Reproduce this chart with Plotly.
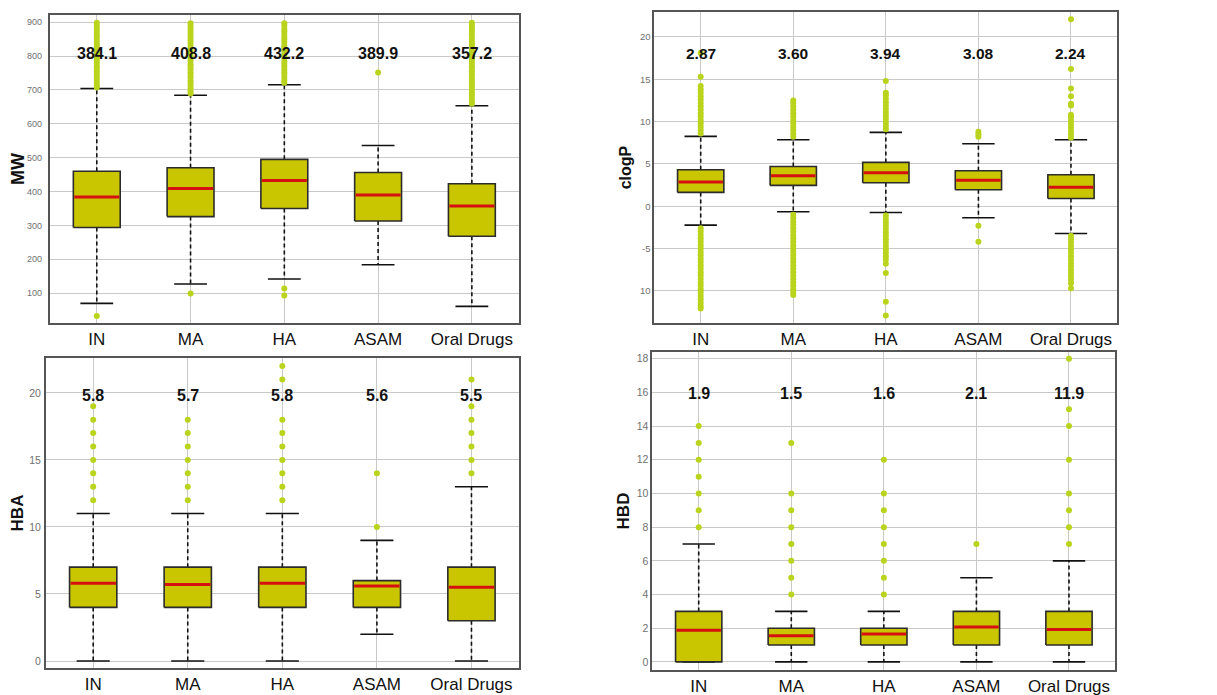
import plotly.graph_objects as go

# ---------------- data ----------------
categories = ["IN", "MA", "HA", "ASAM", "Oral Drugs"]

# MW
mw_lo = [70, 127, 142, 184, 61]
mw_q1 = [294, 326, 350, 313, 268]
mw_med = [384.1, 408.8, 432.2, 389.9, 357.2]
mw_q3 = [460, 470, 495, 456, 423]
mw_hi = [704, 684, 715, 536, 653]
mw_labels = ["384.1", "408.8", "432.2", "389.9", "357.2"]
mw_out = [
    [33, 707, 714, 722, 731, 738, 746, 755, 763, 770, 779, 787, 794, 803, 811, 818,
     827, 835, 842, 851, 859, 866, 875, 883, 890, 898],
    [99, 689, 696, 704, 713, 720, 728, 737, 745, 752, 761, 769, 776, 785, 793, 800,
     809, 817, 824, 833, 841, 848, 857, 865, 872, 881, 889, 897],
    [93, 114, 721, 728, 736, 745, 752, 760, 769, 777, 784, 793, 801, 808, 817, 825,
     832, 841, 849, 856, 865, 873, 880, 889, 897],
    [751],
    [659, 666, 674, 683, 690, 698, 707, 715, 722, 731, 739, 746, 755, 763, 770, 779,
     787, 794, 803, 811, 818, 827, 835, 842, 851, 859, 866, 875, 883, 890, 898],
]

# clogP
lp_lo = [-2.23, -0.66, -0.74, -1.37, -3.22]
lp_q1 = [1.63, 2.46, 2.77, 1.94, 0.92]
lp_med = [2.87, 3.60, 3.94, 3.08, 2.24]
lp_q3 = [4.31, 4.70, 5.18, 4.19, 3.72]
lp_hi = [8.25, 7.86, 8.73, 7.39, 7.86]
lp_labels = ["2.87", "3.60", "3.94", "3.08", "2.24"]
lp_out = [
    [8.6, 9.0, 9.4, 9.8, 10.2, 10.6, 11.0, 11.4, 11.8, 12.2, 12.6, 13.0, 13.4, 13.8, 14.2,
     15.3, 18.1,
     -2.6, -3.0, -3.4, -3.8, -4.2, -4.6, -5.0, -5.4, -5.8, -6.2, -6.6, -7.0, -7.4, -7.8,
     -8.2, -8.6, -9.0, -9.4, -9.8, -10.2, -10.6, -11.0, -11.4, -11.8, -12.1],
    [8.2, 8.6, 9.0, 9.4, 9.8, 10.2, 10.6, 11.0, 11.4, 11.8, 12.2, 12.5,
     -1.0, -1.4, -1.8, -2.2, -2.6, -3.0, -3.4, -3.8, -4.2, -4.6, -5.0, -5.4, -5.8, -6.2,
     -6.6, -7.0, -7.4, -7.8, -8.2, -8.6, -9.0, -9.4, -9.8, -10.2, -10.5],
    [9.1, 9.5, 9.9, 10.3, 10.7, 11.1, 11.5, 11.9, 12.3, 12.7, 13.1, 13.4, 14.8,
     -1.1, -1.5, -1.9, -2.3, -2.7, -3.1, -3.5, -3.9, -4.3, -4.7, -5.1, -5.5, -5.9, -6.3,
     -6.8, -7.9, -11.3, -12.9],
    [8.2, 8.5, 8.8, -2.3, -4.2],
    [8.1, 8.5, 8.9, 9.3, 9.7, 10.1, 10.5, 10.8, 11.9, 12.1, 13.0, 13.9, 16.2, 22.1,
     -3.5, -3.9, -4.3, -4.7, -5.1, -5.5, -5.9, -6.3, -6.7, -7.1, -7.5, -7.9, -8.3, -8.7,
     -9.1, -9.7],
]
lp_tickvals = [-10, -5, 0, 5, 10, 15, 20]
lp_ticktext = ["10", "-5", "0", "5", "10", "15", "20"]

# HBA
hba_lo = [0, 0, 0, 2, 0]
hba_q1 = [4, 4, 4, 4, 3]
hba_med = [5.8, 5.7, 5.8, 5.6, 5.5]
hba_q3 = [7, 7, 7, 6, 7]
hba_hi = [11, 11, 11, 9, 13]
hba_labels = ["5.8", "5.7", "5.8", "5.6", "5.5"]
hba_out = [
    [12, 13, 14, 15, 16, 17, 18, 19],
    [12, 13, 14, 15, 16, 17, 18],
    [12, 13, 14, 15, 16, 17, 18, 21, 22],
    [10, 14],
    [14, 15, 16, 17, 18, 19, 21],
]

# HBD
hbd_lo = [0, 0, 0, 0, 0]
hbd_q1 = [0, 1, 1, 1, 1]
hbd_med = [1.88, 1.55, 1.65, 2.08, 1.92]
hbd_q3 = [3, 2, 2, 3, 3]
hbd_hi = [7, 3, 3, 5, 6]
hbd_labels = ["1.9", "1.5", "1.6", "2.1", "11.9"]
hbd_out = [
    [8, 9, 10, 11, 12, 13, 14],
    [4, 5, 6, 7, 8, 9, 10, 13],
    [4, 5, 6, 7, 8, 9, 10, 12],
    [7],
    [7, 8, 9, 10, 12, 14, 15, 18],
]

# ---------------- style / layout ----------------
W, H = 1217, 695
PAGE_OFFSET = 8  # default body margin of the html page
FONT = "Liberation Sans, Arial, sans-serif"
BOX_FILL = "#c9c600"
BOX_LINE = "#2b2b2b"
MED_COLOR = "#d41010"
OUT_COLOR = "#bad41e"
GRID = "#c9c9c9"
FRAME = "#555555"
BOX_HALF = 0.25
CAP_HALF = 0.175


def dom(left, top, right, bottom):
    """pixel frame in the screenshot -> paper domains"""
    o = PAGE_OFFSET
    return ([(left - o) / W, (right - o) / W],
            [1 - (bottom - o) / H, 1 - (top - o) / H])


panels = [
    dict(name="MW", lo=mw_lo, q1=mw_q1, med=mw_med, q3=mw_q3, hi=mw_hi, out=mw_out,
         labels=mw_labels, label_y=806, yrange=[12, 921],
         tickvals=[100, 200, 300, 400, 500, 600, 700, 800, 900], ticktext=None,
         frame=(47, 15, 517, 323), tfs=9, ttfs=18, lfs=16, tls=4, tst=6),
    dict(name="clogP", lo=lp_lo, q1=lp_q1, med=lp_med, q3=lp_q3, hi=lp_hi, out=lp_out,
         labels=lp_labels, label_y=18.1, yrange=[-13.8, 22.95],
         tickvals=lp_tickvals, ticktext=lp_ticktext,
         frame=(653, 12, 1117, 323), tfs=9.5, ttfs=16, lfs=15.5, tls=0, tst=4),
    dict(name="HBA", lo=hba_lo, q1=hba_q1, med=hba_med, q3=hba_q3, hi=hba_hi, out=hba_out,
         labels=hba_labels, label_y=19.8, yrange=[-0.52, 22.6],
         tickvals=[0, 5, 10, 15, 20], ticktext=None,
         frame=(43, 358, 517, 668), tfs=10.5, ttfs=17, lfs=16, tls=1, tst=3),
    dict(name="HBD", lo=hbd_lo, q1=hbd_q1, med=hbd_med, q3=hbd_q3, hi=hbd_hi, out=hbd_out,
         labels=hbd_labels, label_y=15.95, yrange=[-0.48, 18.4],
         tickvals=[0, 2, 4, 6, 8, 10, 12, 14, 16, 18], ticktext=None,
         frame=(651, 352, 1115, 670), tfs=10.5, ttfs=17, lfs=16, tls=0, tst=3),
]

fig = go.Figure()
annotations = []
layout_axes = {}

for p_i, p in enumerate(panels):
    n = "" if p_i == 0 else str(p_i + 1)
    xa, ya = "x" + n, "y" + n
    xdom, ydom = dom(*p["frame"])
    for i, cat in enumerate(categories):
        lo, q1, md, q3, hi = p["lo"][i], p["q1"][i], p["med"][i], p["q3"][i], p["hi"][i]
        # whiskers (dashed)
        fig.add_trace(go.Scatter(
            x=[i, i, None, i, i], y=[q3, hi, None, q1, lo], mode="lines",
            line=dict(color="#111111", width=1.6, dash="4px,3px"),
            xaxis=xa, yaxis=ya, showlegend=False, hoverinfo="skip"))
        # caps
        fig.add_trace(go.Scatter(
            x=[i - CAP_HALF, i + CAP_HALF, None, i - CAP_HALF, i + CAP_HALF],
            y=[hi, hi, None, lo, lo], mode="lines",
            line=dict(color="#111111", width=1.6),
            xaxis=xa, yaxis=ya, showlegend=False, hoverinfo="skip"))
        # box
        fig.add_trace(go.Scatter(
            x=[i - BOX_HALF, i + BOX_HALF, i + BOX_HALF, i - BOX_HALF, i - BOX_HALF],
            y=[q1, q1, q3, q3, q1], mode="lines", fill="toself",
            fillcolor=BOX_FILL, line=dict(color=BOX_LINE, width=1.6),
            xaxis=xa, yaxis=ya, showlegend=False, name=cat))
        # median
        fig.add_trace(go.Scatter(
            x=[i - BOX_HALF + 0.01, i + BOX_HALF - 0.01], y=[md, md], mode="lines",
            line=dict(color=MED_COLOR, width=3),
            xaxis=xa, yaxis=ya, showlegend=False, hoverinfo="skip"))
        # outliers
        outs = p["out"][i]
        fig.add_trace(go.Scatter(
            x=[i] * len(outs), y=outs, mode="markers",
            marker=dict(color=OUT_COLOR, size=6, line=dict(width=0)),
            xaxis=xa, yaxis=ya, showlegend=False))
        annotations.append(dict(
            x=i, y=p["label_y"], xref=xa, yref=ya, text="<b>%s</b>" % p["labels"][i],
            showarrow=False, font=dict(family=FONT, size=p["lfs"], color="#111111")))

    xkey = "xaxis" + n
    ykey = "yaxis" + n
    layout_axes[xkey] = dict(
        domain=xdom, anchor=ya, range=[-0.5, 4.5],
        tickmode="array", tickvals=list(range(len(categories))), ticktext=categories,
        showgrid=True, gridcolor=GRID, gridwidth=1, zeroline=False,
        showline=True, linecolor=FRAME, linewidth=2, mirror=True, ticks="",
        tickfont=dict(family=FONT, size=17, color="#111111"))
    yax = dict(
        domain=ydom, anchor=xa, range=p["yrange"],
        tickmode="array", tickvals=p["tickvals"],
        showgrid=True, gridcolor=GRID, gridwidth=1, zeroline=False,
        showline=True, linecolor=FRAME, linewidth=2, mirror=True, ticks="",
        ticklabelstandoff=p["tls"],
        tickfont=dict(family=FONT, size=p["tfs"], color="#707070"),
        title=dict(text="<b>%s</b>" % p["name"], standoff=p["tst"],
                   font=dict(family=FONT, size=p["ttfs"], color="#111111")))
    if p["ticktext"] is not None:
        yax["ticktext"] = p["ticktext"]
    layout_axes[ykey] = yax

fig.update_layout(
    width=W, height=H,
    margin=dict(l=0, r=0, t=0, b=0),
    paper_bgcolor="white", plot_bgcolor="white",
    font=dict(family=FONT),
    annotations=annotations,
    showlegend=False,
    **layout_axes)

fig.write_html("out.html")
